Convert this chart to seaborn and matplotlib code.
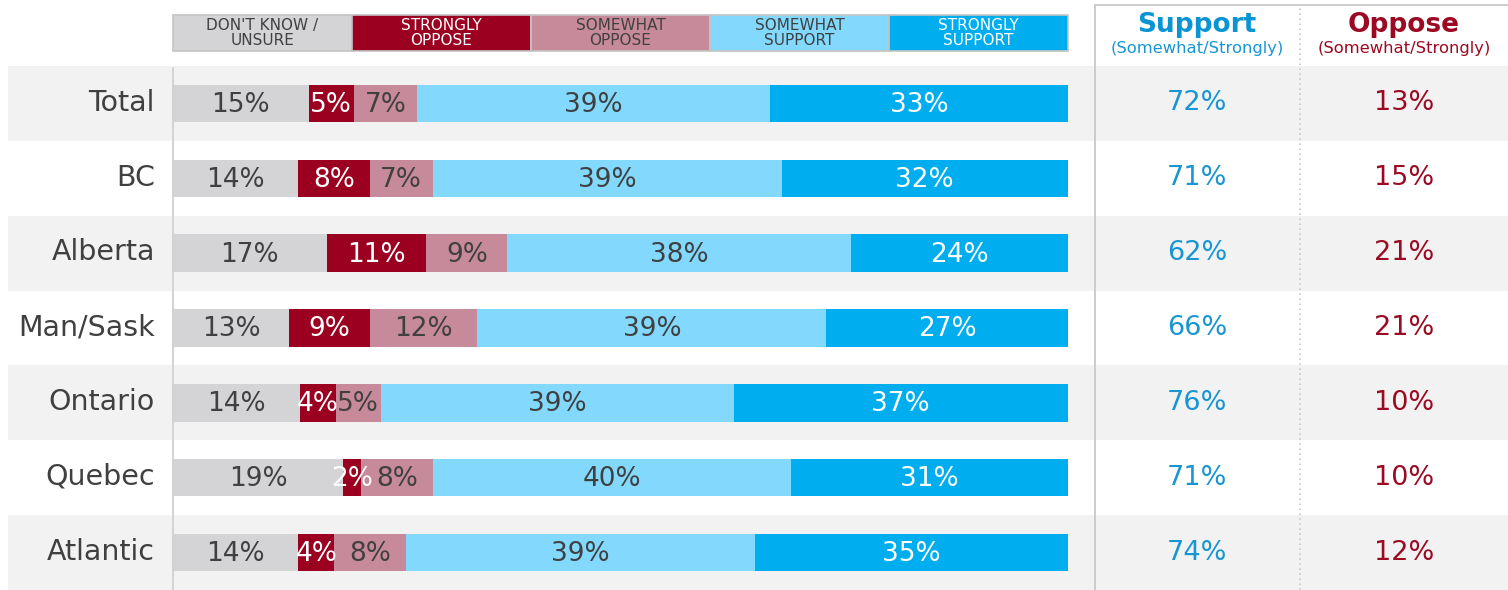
import numpy as np
import pandas as pd
import matplotlib.pyplot as plt
import seaborn as sns

regions = ["Total", "BC", "Alberta", "Man/Sask", "Ontario", "Quebec", "Atlantic"]
dont_know = [15, 14, 17, 13, 14, 19, 14]
strongly_oppose = [5, 8, 11, 9, 4, 2, 4]
somewhat_oppose = [7, 7, 9, 12, 5, 8, 8]
somewhat_support = [39, 39, 38, 39, 39, 40, 39]
strongly_support = [33, 32, 24, 27, 37, 31, 35]
support_net = [72, 71, 62, 66, 76, 71, 74]
oppose_net = [13, 15, 21, 21, 10, 10, 12]

cols = ["dk", "so", "smo", "sms", "ss"]
legend_labels = ["DON'T KNOW /\nUNSURE", "STRONGLY\nOPPOSE", "SOMEWHAT\nOPPOSE",
                 "SOMEWHAT\nSUPPORT", "STRONGLY\nSUPPORT"]
colors = ["#d4d4d6", "#9b0020", "#c68a9b", "#82d9fd", "#00aeef"]
text_colors = ["#404040", "white", "#404040", "#404040", "white"]
blue = "#1896d3"
red = "#9b0a22"

df = pd.DataFrame({"region": regions, "dk": dont_know, "so": strongly_oppose,
                   "smo": somewhat_oppose, "sms": somewhat_support,
                   "ss": strongly_support})

# rows are drawn as shares of the row total so every bar fills the width
shares = df[cols].div(df[cols].sum(axis=1), axis=0) * 100
cum = shares.cumsum(axis=1)
cum["region"] = regions

sns.set_style("white")
plt.rcParams["font.family"] = ["DejaVu Sans"]

fig = plt.figure(figsize=(15.08, 5.9), dpi=100)
ax = fig.add_axes([0, 0, 1, 1])

# pixel helpers for layout
pitch = (590 - 66) / 7
def px2x(p):
    return (p - 173) / 8.95
def px2y(p):
    return (p - 66) / pitch - 0.5

# row bands
for i in range(0, 7, 2):
    ax.axhspan(i - 0.5, i + 0.5, xmin=8 / 1508, xmax=1, color="#f2f2f2", lw=0, zorder=0)

# stacked bars, drawn from the outermost cumulative value inward
for col, color in reversed(list(zip(cols, colors))):
    sns.barplot(data=cum, x=col, y="region", orient="h", color=color, saturation=1,
                width=0.5, errorbar=None, linewidth=0, ax=ax, zorder=2)

for i, reg in enumerate(regions):
    for j, col in enumerate(cols):
        right = cum.loc[i, col]
        w = shares.loc[i, col]
        ax.text(right - w / 2, i + 0.02, f"{df.loc[i, col]}%", ha="center", va="center",
                fontsize=19, color=text_colors[j], zorder=4)
    ax.text(px2x(155), i - 0.01, reg, ha="right", va="center", fontsize=20.5,
            color="#404040")
    ax.text(px2x(1197), i, f"{support_net[i]}%", ha="center", va="center",
            fontsize=19.5, color=blue)
    ax.text(px2x(1404), i, f"{oppose_net[i]}%", ha="center", va="center",
            fontsize=19.5, color=red)

# legend header boxes
for j, lab in enumerate(legend_labels):
    ax.barh(px2y(33), 20, left=20 * j, height=(51 - 15) / pitch, color=colors[j],
            edgecolor="#c4c4c4", linewidth=1.2, zorder=2)
    ax.text(20 * j + 10, px2y(33), lab, ha="center", va="center", fontsize=11,
            color=text_colors[j], linespacing=1.05, zorder=4)

# right-side header
ax.text(px2x(1197), px2y(25), "Support", ha="center", va="center", fontsize=19,
        fontweight="bold", color="#0a94d4")
ax.text(px2x(1197), px2y(48), "(Somewhat/Strongly)", ha="center", va="center",
        fontsize=11.8, color=blue)
ax.text(px2x(1404), px2y(25), "Oppose", ha="center", va="center", fontsize=19,
        fontweight="bold", color=red)
ax.text(px2x(1404), px2y(48), "(Somewhat/Strongly)", ha="center", va="center",
        fontsize=11.8, color=red)

# frame lines
ax.axvline(0, ymin=0, ymax=(590 - 68) / 590, color="#d0d0d0", lw=1.3, zorder=3)
ax.axvline(px2x(1095), ymin=0, ymax=(590 - 5) / 590, color="#c8c8c8", lw=1.3, zorder=3)
ax.axvline(px2x(1300), ymin=0, ymax=(590 - 5) / 590, color="#c8c8c8", lw=1.2,
           ls=(0, (1, 2)), zorder=3)
ax.axhline(px2y(5), xmin=1095 / 1508, xmax=1, color="#c8c8c8", lw=1.3, zorder=3)

ax.set_xlim(px2x(0), px2x(1508))
ax.set_ylim(px2y(590), px2y(0))
ax.set_xticks([])
ax.set_yticks([])
ax.set_xlabel("")
ax.set_ylabel("")
for s in ax.spines.values():
    s.set_visible(False)

plt.savefig("out.png", dpi=100)
